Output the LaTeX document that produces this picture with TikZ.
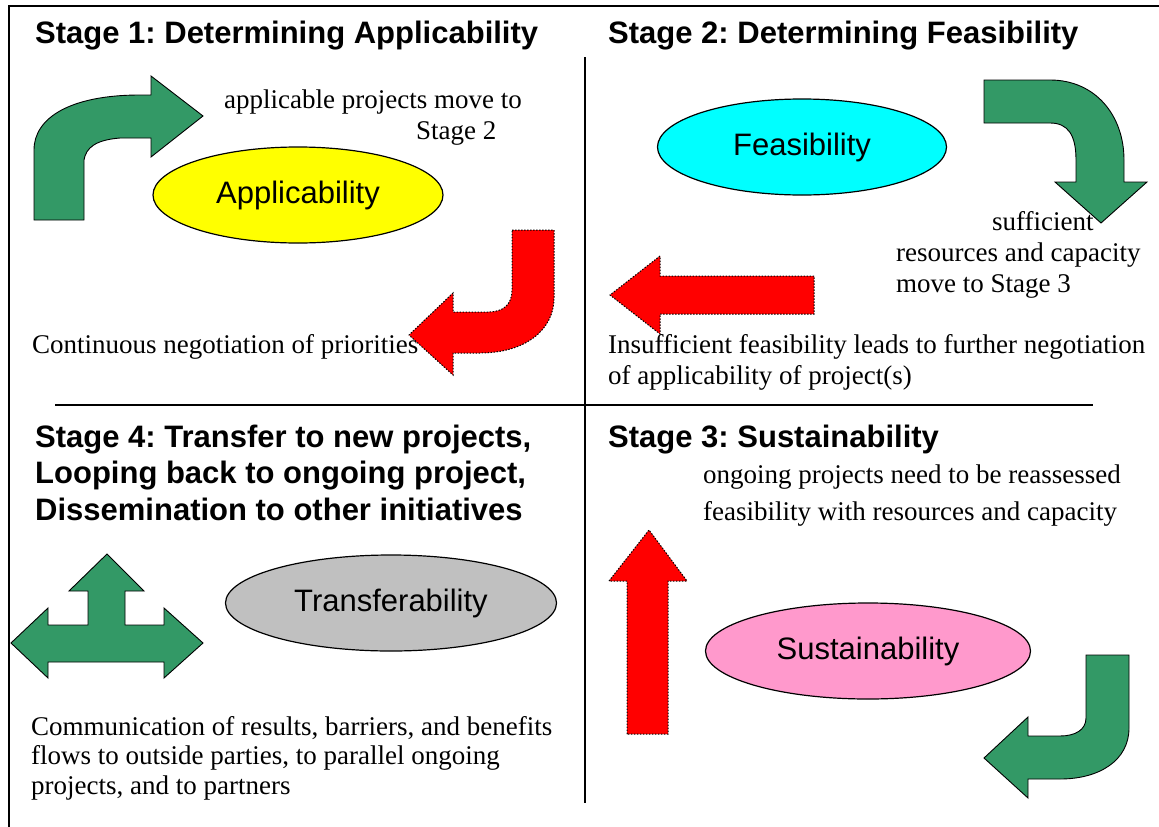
\documentclass[tikz,border=0pt]{standalone}
\usepackage{fontspec}
\setmainfont{Liberation Serif}
\setsansfont{Liberation Sans}
\usetikzlibrary{shapes.geometric}
\definecolor{pptgreen}{HTML}{339966}
\definecolor{pptyellow}{HTML}{FFFF00}
\definecolor{pptcyan}{HTML}{00FFFF}
\definecolor{pptgray}{HTML}{C0C0C0}
\definecolor{pptpink}{HTML}{FF99CC}
\frenchspacing
\begin{document}
\begin{tikzpicture}[x=1pt, y=-1pt,
        heading/.style={anchor=base west, inner sep=0pt, align=left, font=\fontsize{31}{36.5}\selectfont\sffamily\bfseries},
        body/.style={anchor=base west, inner sep=0pt, align=left, font=\fontsize{27}{31}\selectfont\rmfamily},
        phase/.style={ellipse, draw, line width=1.2pt, inner sep=0pt, minimum height=96pt, font=\fontsize{31}{36}\selectfont\sffamily},
        goarrow/.style={fill=pptgreen, draw=black, line width=0.9pt, line join=miter},
        backarrow/.style={fill=red, draw=black, line width=1pt, dash pattern=on 1.5pt off 1.5pt}]

        \useasboundingbox (0,0) rectangle (1159,827);

        \draw[line width=2pt] (8,6) -- (1159,6);
        \draw[line width=2pt] (9,6) -- (9,827);
        \draw[line width=1.3pt] (585,57) -- (585,803);
        \draw[line width=1.3pt] (55,405) -- (1093,405);

        \node[heading] (t1) at (35,43) {Stage 1: Determining Applicability};
        \node[heading] (t2) at (608,43) {Stage 2: Determining Feasibility};
        \node[heading] (t4) at (35,520) {Stage 4: Transfer to new projects,\\Looping back to ongoing project,\\Dissemination to other initiatives};
        \node[heading] (t3) at (608,447) {Stage 3: Sustainability};

        \node[phase, fill=pptyellow, minimum width=290pt] (app) at (298,195) {Applicability};
        \node[phase, fill=pptcyan, minimum width=289pt] (fea) at (802,147) {Feasibility};
        \node[phase, fill=pptgray, minimum width=331pt] (tra) at (391,603) {Transferability};
        \node[phase, fill=pptpink, minimum width=325pt] (sus) at (868,651) {Sustainability};

        \node[body] (moveA) at (224,108) {applicable projects move to};
        \node[body] (moveB) at (416,139) {Stage 2};
        \node[body] (nego) at (32,353) {Continuous negotiation of priorities};
        \node[body] (suffA) at (992,230) {sufficient};
        \node[body] (suffB) at (896,292) {resources and capacity\\move to Stage 3};
        \node[body] (insuf) at (608,384) {Insufficient feasibility leads to further negotiation\\of applicability of project(s)};
        \node[body, font=\fontsize{27}{37}\selectfont\rmfamily] (reas) at (703,520) {ongoing projects need to be reassessed\\feasibility with resources and capacity};
        \node[body, font=\fontsize{27}{29.5}\selectfont\rmfamily] (comm) at (31,794) {Communication of results, barriers, and benefits\\flows to outside parties, to parallel ongoing\\projects, and to partners};

        \draw[goarrow] (34,220) -- (34,150) .. controls (34,118) and (70,95) .. (140,95) -- (151,95)
            -- (151,76) -- (203,116) -- (151,157) -- (151,138) -- (120,138)
            .. controls (95,140) and (86,148) .. (84,160) -- (84,220) -- cycle;
        \draw[backarrow] (512,230) -- (554,230) -- (554,298) .. controls (554,330) and (525,353) .. (480,353)
            -- (453,353) -- (453,375) -- (409,335) -- (453,293) -- (453,312) -- (488,312)
            .. controls (503,312) and (512,305) .. (512,290) -- cycle;
        \draw[goarrow] (984,80) -- (1050,80) .. controls (1095,80) and (1124,115) .. (1124,160)
            -- (1124,182) -- (1147,182) -- (1101,223) -- (1055,182) -- (1076,182) -- (1076,160)
            .. controls (1076,135) and (1068,123) .. (1050,123) -- (984,123) -- cycle;
        \draw[backarrow] (814,276) -- (660,276) -- (660,256) -- (610,295) -- (660,334) -- (660,314) -- (814,314) -- cycle;
        \draw[goarrow] (11,643) -- (48,608) -- (48,625) -- (88,625) -- (88,591) -- (69,591) -- (107,554)
            -- (144,591) -- (125,591) -- (125,625) -- (164,625) -- (164,608) -- (203,643) -- (164,678)
            -- (164,662) -- (48,662) -- (48,678) -- cycle;
        \draw[backarrow] (627,734) -- (627,581) -- (609,581) -- (649,530) -- (687,581) -- (668,581) -- (668,734) -- cycle;
        \draw[goarrow] (1086,655) -- (1129,655) -- (1129,728) .. controls (1129,760) and (1100,779) .. (1060,779)
            -- (1028,779) -- (1028,798) -- (984,758) -- (1028,717) -- (1028,736) -- (1060,736)
            .. controls (1075,736) and (1086,730) .. (1086,718) -- cycle;
\end{tikzpicture}
\end{document}
